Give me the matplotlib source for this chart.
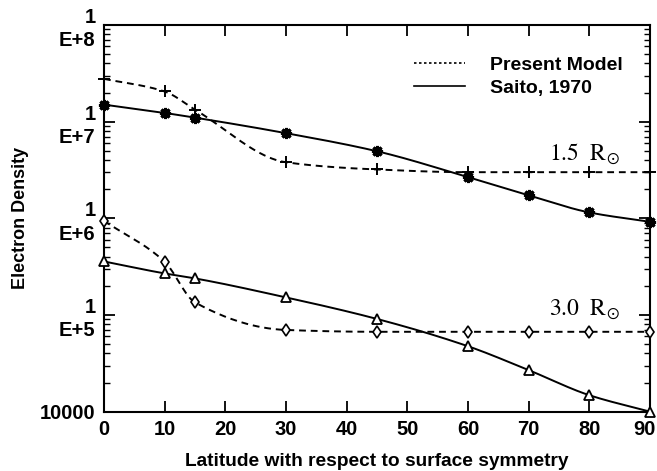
import numpy as np
import matplotlib.pyplot as plt
from matplotlib.lines import Line2D
from matplotlib.ticker import LogLocator, NullFormatter
from matplotlib.transforms import ScaledTranslation

plt.rcParams['font.family'] = 'Liberation Sans'
plt.rcParams['mathtext.fontset'] = 'stix'

# latitude (deg) and electron densities at 1.5 and 3.0 solar radii
lat = [0, 10, 15, 30, 45, 60, 70, 80, 90]
model_15 = [2.77e7, 2.05e7, 1.33e7, 3.8e6, 3.2e6, 3.0e6, 3.0e6, 3.0e6, 3.0e6]
saito_15 = [1.5e7, 1.23e7, 1.1e7, 7.6e6, 4.94e6, 2.67e6, 1.73e6, 1.15e6, 9.2e5]
model_30 = [9.4e5, 3.55e5, 1.35e5, 7.0e4, 6.7e4, 6.7e4, 6.7e4, 6.7e4, 6.7e4]
saito_30 = [3.58e5, 2.69e5, 2.39e5, 1.52e5, 9.1e4, 4.75e4, 2.69e4, 1.48e4, 1.0e4]

ytick_vals = [1e4, 1e5, 1e6, 1e7, 1e8]
ytick_text = ['10000', '1\nE+5', '1\nE+6', '1\nE+7', '1\nE+8']
xtick_vals = [0, 10, 20, 30, 40, 50, 60, 70, 80, 90]


# monotone cubic (Fritsch-Carlson) so the curves pass smoothly through the points
def smooth(x, y, n=300):
    x = np.asarray(x, float)
    y = np.log10(np.asarray(y, float))
    h = np.diff(x)
    d = np.diff(y) / h
    m = np.zeros_like(y)
    m[0], m[-1] = d[0], d[-1]
    for k in range(1, len(x) - 1):
        if d[k - 1] * d[k] > 0:
            w1 = 2 * h[k] + h[k - 1]
            w2 = h[k] + 2 * h[k - 1]
            m[k] = (w1 + w2) / (w1 / d[k - 1] + w2 / d[k])
    xs = np.linspace(x[0], x[-1], n)
    idx = np.clip(np.searchsorted(x, xs) - 1, 0, len(x) - 2)
    t = (xs - x[idx]) / h[idx]
    h00 = 2 * t**3 - 3 * t**2 + 1
    h10 = t**3 - 2 * t**2 + t
    h01 = -2 * t**3 + 3 * t**2
    h11 = t**3 - t**2
    ys = h00 * y[idx] + h10 * h[idx] * m[idx] + h01 * y[idx + 1] + h11 * h[idx] * m[idx + 1]
    return xs, 10**ys


fig = plt.figure(figsize=(6.57, 4.71), dpi=100)
ax = fig.add_axes([0.1583, 0.126, 0.831, 0.821])

dash = (0, (3.5, 2.5))
for xv, yv, mk, ls, ms, mew in [
    (lat, model_15, '+', dash, 8, 1.4),
    (lat, saito_15, (8, 2, 0), '-', 8, 2.2),
    (lat, model_30, 'd', dash, 6, 1.2),
    (lat, saito_30, '^', '-', 7, 1.3),
]:
    xs, ys = smooth(xv, yv)
    ax.plot(xs, ys, color='black', linestyle=ls, lw=1.4, clip_on=False)
    ax.plot(xv, yv, linestyle='none', marker=mk, ms=ms, mew=mew,
            mfc='white' if mk in ('d', '^') else 'black', mec='black',
            clip_on=False, zorder=5)

ax.set_yscale('log')
ax.set_xlim(0, 90)
ax.set_ylim(1e4, 1e8)

ax.set_xticks(xtick_vals)
ax.set_yticks(ytick_vals)
ax.set_yticklabels(ytick_text, linespacing=1.3)
ax.yaxis.set_minor_locator(LogLocator(base=10, subs=np.arange(2, 10)))
ax.yaxis.set_minor_formatter(NullFormatter())
ax.tick_params(axis='both', which='major', direction='in', length=8, width=1.3,
               top=True, right=True, labelsize=14.5, pad=6)
ax.tick_params(axis='y', which='minor', direction='in', length=4, width=1.0,
               right=True)
for lab in ax.get_xticklabels() + ax.get_yticklabels():
    lab.set_fontweight('bold')
# keep the "90" inside the canvas
last = ax.get_xticklabels()[-1]
last.set_transform(last.get_transform() + ScaledTranslation(-4 / 72, 0, fig.dpi_scale_trans))
for s in ax.spines.values():
    s.set_linewidth(1.5)

ax.set_xlabel('Latitude with respect to surface symmetry', fontsize=13.8,
              fontweight='bold', labelpad=10)
ax.set_ylabel('Electron Density', fontsize=13, fontweight='bold', labelpad=8)

ax.text(0.945, 0.664, r'$\mathrm{1.5\ \ R}_{\odot}$', transform=ax.transAxes,
        fontsize=17, ha='right', va='center')
ax.text(0.945, 0.263, r'$\mathrm{3.0\ \ R}_{\odot}$', transform=ax.transAxes,
        fontsize=17, ha='right', va='center')

handles = [Line2D([], [], color='black', lw=1.2, linestyle=(0, (1.5, 1.5))),
           Line2D([], [], color='black', lw=1.2, linestyle='-')]
ax.legend(handles, ['Present Model', 'Saito, 1970'], loc='upper right',
          bbox_to_anchor=(0.982, 0.965), frameon=False, handlelength=2.6,
          handletextpad=1.3, labelspacing=0.3,
          prop={'family': 'Liberation Sans', 'weight': 'bold', 'size': 14})

fig.savefig('out.png', dpi=100)
